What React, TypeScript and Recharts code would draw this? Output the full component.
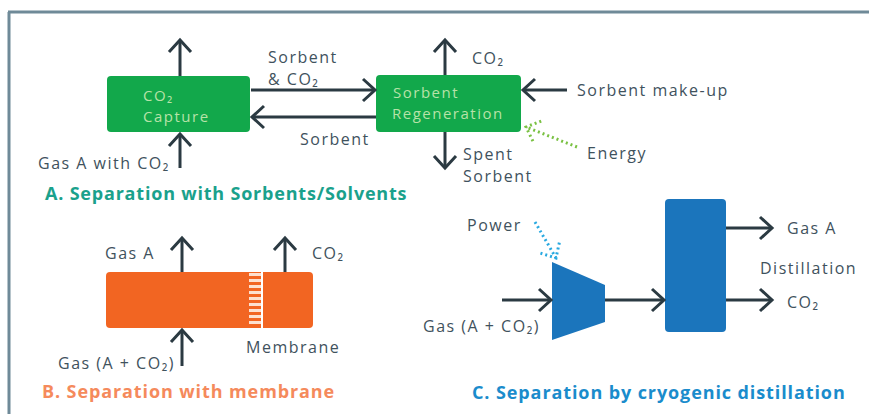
import { ScatterChart, Scatter, XAxis, YAxis, ReferenceArea, ReferenceLine } from 'recharts';

// diagram space = picture pixels (0..869, 0..414)
const W = 869;
const H = 414;

const ink = '#3f525d';

const boxes = [
  { id: 'capture', x1: 107, x2: 250, y1: 76, y2: 132, fill: '#12a84b' },
  { id: 'regen', x1: 376, x2: 521, y1: 75, y2: 132, fill: '#12a84b' },
  { id: 'membrane', x1: 106, x2: 313, y1: 272, y2: 328, fill: '#f26522' },
  { id: 'column', x1: 665, x2: 726, y1: 199, y2: 332, fill: '#1b75bc' },
];

// compressor: left side full height, right side narrower
const compressor = { x1: 552, x2: 605, y1: 262, y2: 340, rightTop: 285, rightBottom: 322, fill: '#1b75bc' };

const arrows = [
  { from: [180, 76], to: [180, 40] },
  { from: [180, 168], to: [180, 134] },
  { from: [251, 90], to: [375, 90] },
  { from: [376, 117], to: [252, 117] },
  { from: [445, 75], to: [445, 40] },
  { from: [445, 132], to: [445, 168] },
  { from: [567, 90], to: [523, 90] },
  { from: [182, 272], to: [182, 238] },
  { from: [285, 272], to: [285, 238] },
  { from: [182, 366], to: [182, 330] },
  { from: [502, 300], to: [551, 300] },
  { from: [605, 300], to: [664, 300] },
  { from: [726, 228], to: [772, 228] },
  { from: [726, 300], to: [772, 300] },
];

const dotted = [
  { from: [577, 147], to: [526, 127], color: '#7ac143' },
  { from: [535, 222], to: [556, 258], color: '#29a9e0' },
];

const frame = [
  { from: [8, 12], to: [869, 12] },
  { from: [9, 12], to: [9, 414] },
];

const inBox = '#b7e2a8';
const labels = [
  { x: 268, y: 57, text: 'Sorbent' },
  { x: 268, y: 79, text: '& CO₂' },
  { x: 300, y: 139, text: 'Sorbent' },
  { x: 38, y: 163, text: 'Gas A with CO₂' },
  { x: 143, y: 95, text: 'CO₂', color: inBox, size: 15, ls: 1.5 },
  { x: 143, y: 116, text: 'Capture', color: inBox, size: 15, ls: 1.5 },
  { x: 393, y: 92, text: 'Sorbent', color: inBox, size: 15, ls: 1.5 },
  { x: 392, y: 113, text: 'Regeneration', color: inBox, size: 15, ls: 1.5 },
  { x: 472, y: 58, text: 'CO₂' },
  { x: 577, y: 90, text: 'Sorbent make-up' },
  { x: 587, y: 153, text: 'Energy' },
  { x: 463, y: 154, text: 'Spent' },
  { x: 463, y: 176, text: 'Sorbent' },
  { x: 45, y: 193, text: 'A. Separation with Sorbents/Solvents', color: '#1aa18c', size: 18, bold: true, ls: 0.8 },
  { x: 105, y: 253, text: 'Gas A' },
  { x: 312, y: 253, text: 'CO₂' },
  { x: 246, y: 347, text: 'Membrane' },
  { x: 58, y: 363, text: 'Gas (A + CO₂)' },
  { x: 42, y: 391, text: 'B. Separation with membrane', color: '#f58a5c', size: 18, bold: true, ls: 0.9 },
  { x: 467, y: 225, text: 'Power' },
  { x: 423, y: 326, text: 'Gas (A + CO₂)' },
  { x: 787, y: 228, text: 'Gas A' },
  { x: 760, y: 268, text: 'Distillation' },
  { x: 787, y: 302, text: 'CO₂' },
  { x: 472, y: 392, text: 'C. Separation by cryogenic distillation', color: '#1a8ccc', size: 18, bold: true, ls: 0.9 },
];

const ArrowShape = (p: any) => {
  const { x1, y1, x2, y2, color, dash, head } = p;
  const dx = x2 - x1;
  const dy = y2 - y1;
  const len = Math.sqrt(dx * dx + dy * dy) || 1;
  const ux = dx / len;
  const uy = dy / len;
  const L = 12;
  const Wd = 11;
  const bx = x2 - ux * L;
  const by = y2 - uy * L;
  const pts = `${bx - uy * Wd},${by + ux * Wd} ${x2},${y2} ${bx + uy * Wd},${by - ux * Wd}`;
  return (
    <g>
      <line x1={x1} y1={y1} x2={x2} y2={y2} stroke={color} strokeWidth={3} strokeDasharray={dash} />
      {head && (
        <polyline points={pts} fill="none" stroke={color} strokeWidth={3} strokeDasharray={dash} strokeLinejoin="miter" />
      )}
    </g>
  );
};

const RoundRect = (p: any) => (
  <rect x={p.x} y={p.y} width={p.width} height={p.height} rx={4} fill={p.fillColor} />
);

const Trapezoid = (p: any) => {
  const c = compressor;
  const top = ((c.rightTop - c.y1) / (c.y2 - c.y1)) * p.height;
  const bot = ((c.rightBottom - c.y1) / (c.y2 - c.y1)) * p.height;
  const pts = `${p.x},${p.y} ${p.x + p.width},${p.y + top} ${p.x + p.width},${p.y + bot} ${p.x},${p.y + p.height}`;
  return <polygon points={pts} fill={c.fill} />;
};

const LabelShape = (p: any) => {
  const d = p.payload;
  return (
    <text
      x={p.cx}
      y={p.cy}
      dominantBaseline="central"
      fill={d.color || ink}
      fontSize={d.size || 16}
      fontWeight={d.bold ? 700 : 400}
      letterSpacing={d.ls ?? 1.5}
      fontFamily="'Open Sans', 'Noto Sans', sans-serif"
    >
      {d.text}
    </text>
  );
};

export default function App() {
  return (
    <div style={{ position: 'absolute', left: 0, top: 0, background: '#fff' }}>
      <ScatterChart width={W} height={H} margin={{ top: 0, right: 0, bottom: 0, left: 0 }}>
        <XAxis type="number" dataKey="x" domain={[0, W]} hide allowDataOverflow />
        <YAxis type="number" dataKey="y" domain={[0, H]} reversed hide allowDataOverflow />
        {frame.map((f, i) => (
          <ReferenceLine
            key={'f' + i}
            segment={[{ x: f.from[0], y: f.from[1] }, { x: f.to[0], y: f.to[1] }]}
            shape={(p: any) => <ArrowShape {...p} color="#6f8a98" head={false} />}
          />
        ))}
        {boxes.map((b) => (
          <ReferenceArea
            key={b.id}
            x1={b.x1}
            x2={b.x2}
            y1={b.y1}
            y2={b.y2}
            shape={(p: any) => <RoundRect {...p} fillColor={b.fill} />}
          />
        ))}
        <ReferenceArea
          x1={compressor.x1}
          x2={compressor.x2}
          y1={compressor.y1}
          y2={compressor.y2}
          shape={(p: any) => <Trapezoid {...p} />}
        />
        {/* membrane strip */}
        <ReferenceLine
          segment={[{ x: 255, y: 273 }, { x: 255, y: 327 }]}
          stroke="#fde0cf"
          strokeWidth={12}
          strokeDasharray="3 3"
        />
        <ReferenceLine segment={[{ x: 262, y: 272 }, { x: 262, y: 328 }]} stroke="#ffffff" strokeWidth={2} />
        {arrows.map((a, i) => (
          <ReferenceLine
            key={'a' + i}
            segment={[{ x: a.from[0], y: a.from[1] }, { x: a.to[0], y: a.to[1] }]}
            shape={(p: any) => <ArrowShape {...p} color="#2b3a42" head />}
          />
        ))}
        {dotted.map((a, i) => (
          <ReferenceLine
            key={'d' + i}
            segment={[{ x: a.from[0], y: a.from[1] }, { x: a.to[0], y: a.to[1] }]}
            shape={(p: any) => <ArrowShape {...p} color={a.color} dash="2 3" head />}
          />
        ))}
        <Scatter data={labels} shape={LabelShape} isAnimationActive={false} />
      </ScatterChart>
    </div>
  );
}
